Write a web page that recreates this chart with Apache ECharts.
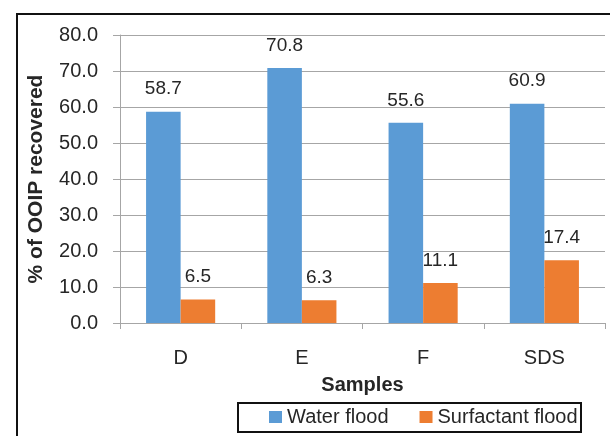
<!DOCTYPE html>
<html>
<head>
<meta charset="utf-8">
<script src="https://cdn.jsdelivr.net/npm/echarts@6/dist/echarts.min.js"></script>
<style>
  html, body { margin: 0; padding: 0; background: #fff; }
  #chart { width: 610px; height: 436px; }
</style>
</head>
<body>
<div id="chart"></div>
<script>
// Oil recovery per sample: water flood vs. surfactant flood
const categories = ['D', 'E', 'F', 'SDS'];
const waterFlood = [58.7, 70.8, 55.6, 60.9];
const surfactantFlood = [6.5, 6.3, 11.1, 17.4];
const yTicks = { min: 0, max: 80, interval: 10 };

const FONT = 'Liberation Sans, Arial, sans-serif';
const TEXT = '#262626';
const GRID = '#a6a6a6';

const chart = echarts.init(document.getElementById('chart'), null, { renderer: 'canvas' });

const labelStyle = {
  show: true,
  position: 'top',
  distance: 13,
  fontFamily: FONT,
  fontSize: 19,
  color: TEXT,
  formatter: p => p.value.toFixed(1)
};

chart.setOption({
  backgroundColor: '#fff',
  animation: false,
  textStyle: { fontFamily: FONT },
  grid: { left: 120, right: 5, top: 35, bottom: 113, containLabel: false },
  legend: {
    left: 269,
    top: 407,
    itemWidth: 13,
    itemHeight: 12,
    itemGap: 31,
    icon: 'rect',
    padding: 0,
    textStyle: { fontFamily: FONT, fontSize: 20, color: TEXT },
    data: ['Water flood', 'Surfactant flood']
  },
  xAxis: {
    type: 'category',
    data: categories,
    name: 'Samples',
    nameLocation: 'middle',
    nameGap: 52,
    nameTextStyle: { fontFamily: FONT, fontSize: 20, fontWeight: 'bold', color: TEXT },
    axisLine: { lineStyle: { color: GRID, width: 1 } },
    axisTick: { show: true, length: 6, alignWithLabel: false, lineStyle: { color: GRID } },
    axisLabel: { margin: 25, fontFamily: FONT, fontSize: 20, color: TEXT },
    splitLine: { show: false }
  },
  yAxis: {
    type: 'value',
    min: yTicks.min,
    max: yTicks.max,
    interval: yTicks.interval,
    name: '% of OOIP recovered',
    nameLocation: 'middle',
    nameGap: 73,
    nameTextStyle: { fontFamily: FONT, fontSize: 21, fontWeight: 'bold', color: TEXT },
    axisLine: { show: true, lineStyle: { color: GRID, width: 1 } },
    axisTick: { show: true, length: 7, lineStyle: { color: GRID } },
    axisLabel: {
      margin: 22,
      fontFamily: FONT,
      fontSize: 20,
      color: TEXT,
      formatter: v => v.toFixed(1)
    },
    splitLine: { show: true, lineStyle: { color: GRID, width: 1 } }
  },
  series: [
    {
      name: 'Water flood',
      type: 'bar',
      data: waterFlood,
      barGap: '0%',
      barCategoryGap: '43%',
      itemStyle: { color: '#5B9BD5' },
      label: labelStyle
    },
    {
      name: 'Surfactant flood',
      type: 'bar',
      data: surfactantFlood,
      itemStyle: { color: '#ED7D31' },
      label: labelStyle
    }
  ],
  graphic: [
    {
      type: 'rect',
      silent: true,
      shape: { x: 17, y: 14, width: 610, height: 440 },
      style: { fill: 'none', stroke: '#111', lineWidth: 2 }
    },
    {
      type: 'rect',
      silent: true,
      shape: { x: 238, y: 403, width: 343, height: 29 },
      style: { fill: 'none', stroke: '#111', lineWidth: 2 }
    }
  ]
});
</script>
</body>
</html>
